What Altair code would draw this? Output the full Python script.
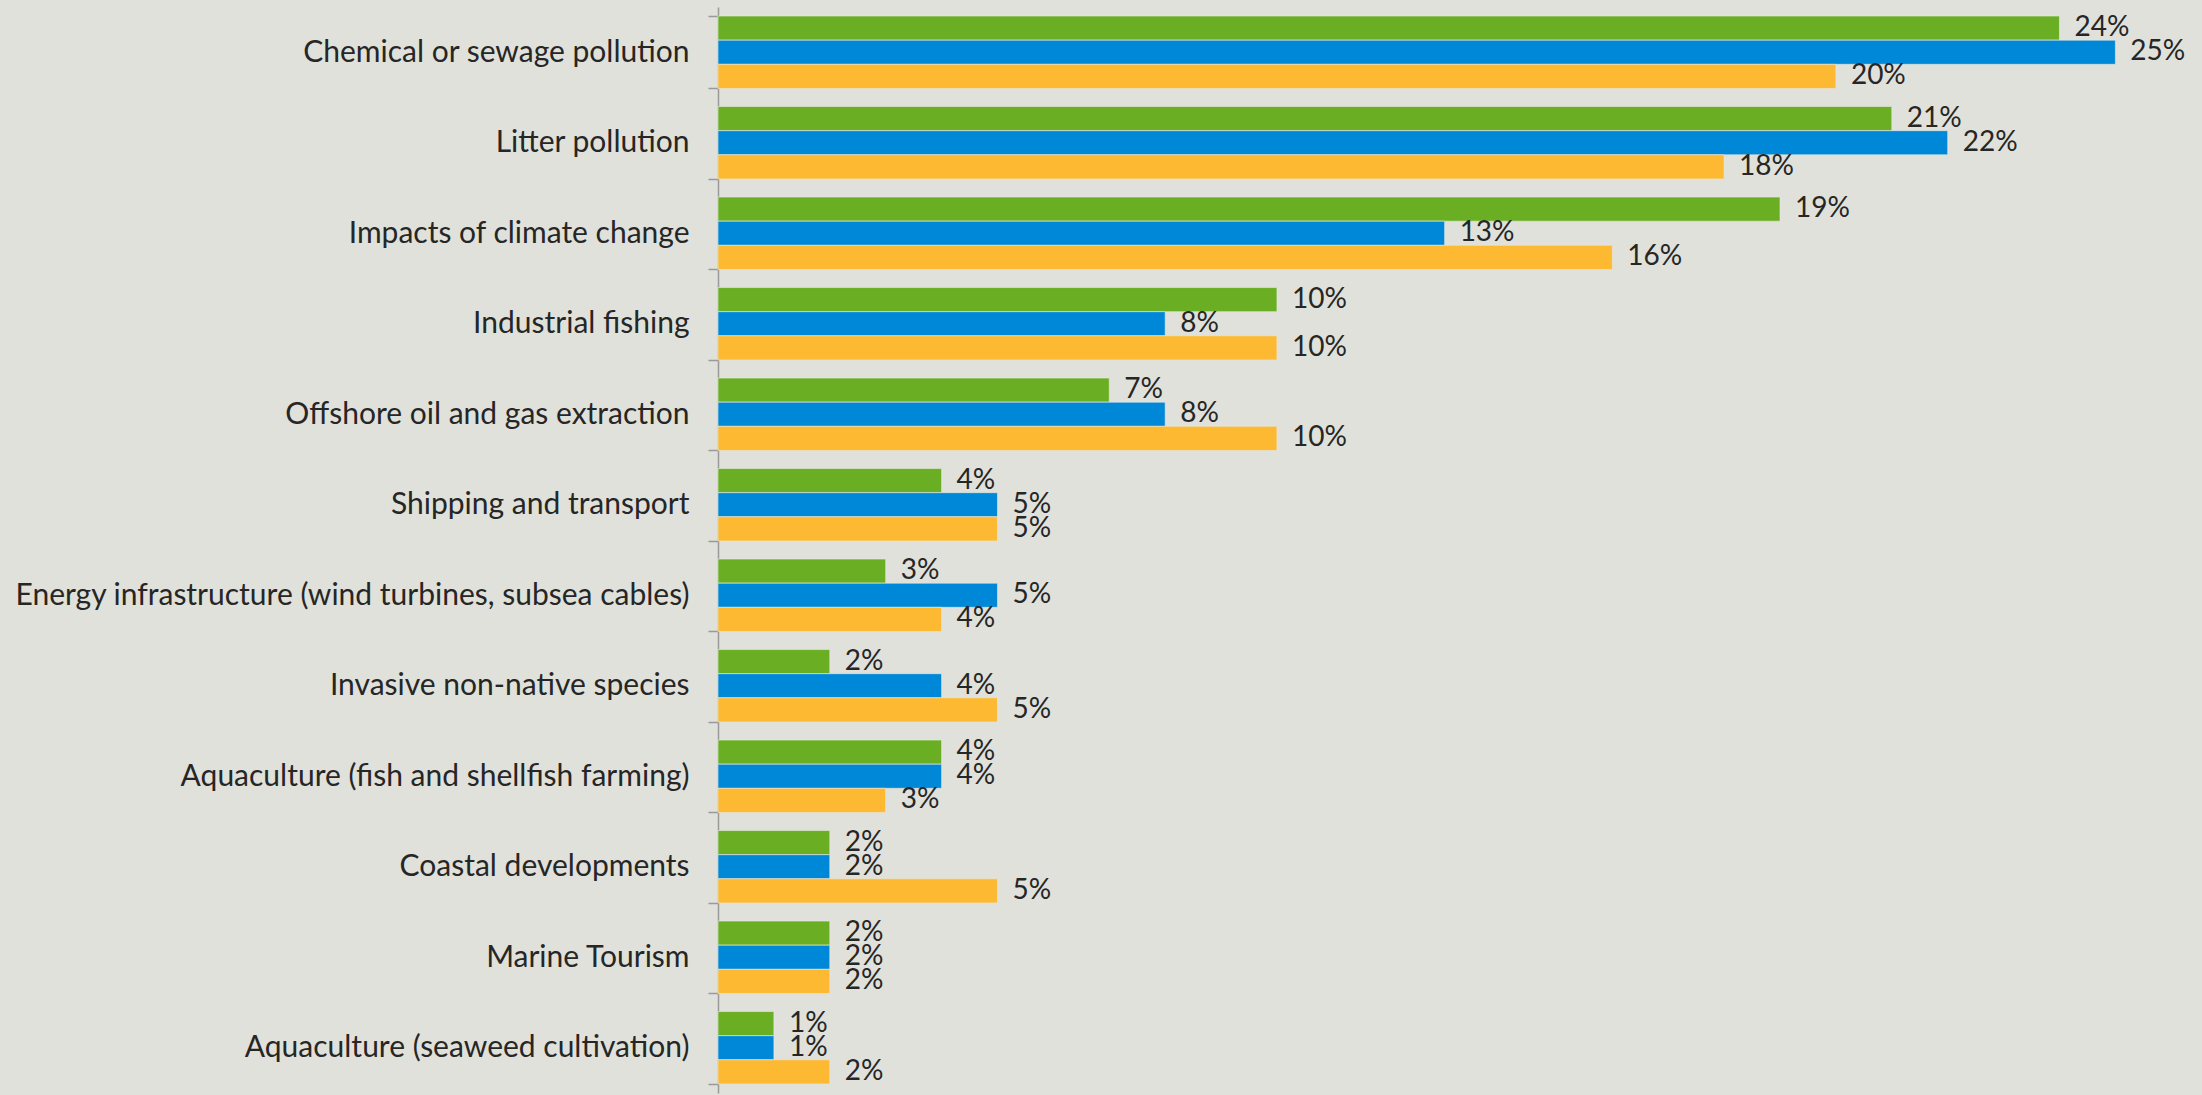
import altair as alt
import pandas as pd

categories = [
    "Chemical or sewage pollution",
    "Litter pollution",
    "Impacts of climate change",
    "Industrial fishing",
    "Offshore oil and gas extraction",
    "Shipping and transport",
    "Energy infrastructure (wind turbines, subsea cables)",
    "Invasive non-native species",
    "Aquaculture (fish and shellfish farming)",
    "Coastal developments",
    "Marine Tourism",
    "Aquaculture (seaweed cultivation)",
]
series_names = ["Series 1", "Series 2", "Series 3"]
green_vals = [24, 21, 19, 10, 7, 4, 3, 2, 4, 2, 2, 1]
blue_vals = [25, 22, 13, 8, 8, 5, 5, 4, 4, 2, 2, 1]
orange_vals = [20, 18, 16, 10, 10, 5, 4, 5, 3, 5, 2, 2]
colors = ["#6AAF23", "#0088D8", "#FDB931"]

rows = []
for i, c in enumerate(categories):
    for s, vals in zip(series_names, [green_vals, blue_vals, orange_vals]):
        rows.append({"category": c, "series": s, "value": vals[i]})
df = pd.DataFrame(rows)

FONT = "Lato"

base = alt.Chart(df).encode(
    y=alt.Y(
        "category:N",
        sort=categories,
        title=None,
        scale=alt.Scale(paddingInner=0.2, paddingOuter=0.1),
        axis=alt.Axis(
            tickBand="extent",
            domainColor="#9A9A9A",
            tickColor="#9A9A9A",
            domainWidth=1.5,
            tickWidth=1.5,
            tickSize=10,
            labelFont=FONT,
            labelFontSize=30,
            labelColor="#262626",
            labelPadding=19,
            labelLimit=720,
        ),
    ),
    yOffset=alt.YOffset(
        "series:N",
        sort=series_names,
        scale=alt.Scale(paddingInner=0, paddingOuter=0),
    ),
    x=alt.X(
        "value:Q",
        scale=alt.Scale(domain=[0, 26.55], nice=False),
        axis=None,
    ),
)

bars = base.mark_bar(stroke="#E8E9E2", strokeWidth=0.6).encode(
    color=alt.Color(
        "series:N",
        sort=series_names,
        scale=alt.Scale(domain=series_names, range=colors),
        legend=None,
    )
)

labels = base.transform_calculate(label="datum.value + '%'").mark_text(
    align="left", baseline="middle", dx=15, font=FONT, fontSize=28, color="#262626"
).encode(text="label:N")

chart = (
    alt.layer(bars, labels)
    .properties(
        width=1484,
        height=1086,
        background="#E0E1DA",
        padding={"left": 718, "top": 7, "right": 0, "bottom": 2},
        autosize=alt.AutoSizeParams(type="none"),
    )
    .configure_view(stroke=None)
)

chart.save("out.html", embed_options={"renderer": "svg", "actions": False})
